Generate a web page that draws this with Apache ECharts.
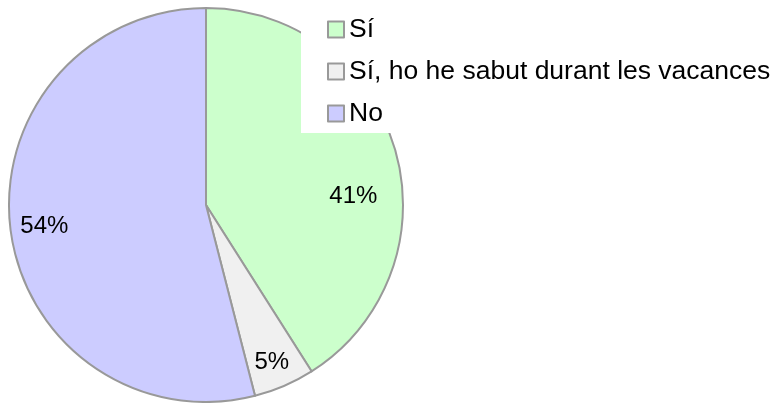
<!DOCTYPE html>
<html>
<head>
<meta charset="utf-8">
<script src="https://cdn.jsdelivr.net/npm/echarts@6/dist/echarts.min.js"></script>
<style>
  html, body { margin: 0; padding: 0; background: #fff; }
  #chart { width: 774px; height: 403px; }
</style>
</head>
<body>
<div id="chart"></div>
<script>
// respostes
var names = ['Sí', 'Sí, ho he sabut durant les vacances', 'No'];
var values = [41, 5, 54];
var colors = ['#ccffcc', '#f0f0f0', '#ccccff'];

var pieData = names.map(function (n, i) {
  return { name: n, value: values[i], itemStyle: { color: colors[i] } };
});

var myChart = echarts.init(document.getElementById('chart'));

var option = {
  animation: false,
  legend: {
    data: names,
    orient: 'vertical',
    left: 301,
    top: 0,
    padding: [16, 8, 6, 26],
    backgroundColor: '#fff',
    itemWidth: 16,
    itemHeight: 16,
    itemGap: 15,
    icon: 'rect',
    itemStyle: { borderColor: '#999', borderWidth: 2 },
    textStyle: { fontFamily: 'Liberation Sans', fontSize: 26.5, lineHeight: 26, color: '#000' }
  },
  series: [
    {
      // tarta visible
      type: 'pie',
      center: [206, 205],
      radius: [0, 197],
      startAngle: 90,
      silent: true,
      itemStyle: { borderColor: '#999', borderWidth: 2 },
      label: { show: false },
      labelLine: { show: false },
      data: pieData
    },
    {
      // només per posar les etiquetes
      type: 'pie',
      center: [206, 205],
      radius: [0, 330],
      startAngle: 90,
      silent: true,
      itemStyle: { color: 'transparent', borderWidth: 0 },
      label: {
        show: true,
        position: 'inside',
        formatter: '{d}%',
        fontFamily: 'Liberation Sans',
        fontSize: 24,
        color: '#000'
      },
      labelLine: { show: false },
      // petits ajustos perquè quedin com a l'original
      labelLayout: function (p) {
        if (p.dataIndex === 0) return { dx: -14, dy: 38 };
        if (p.dataIndex === 1) return { dx: -1, dy: 3 };
        return { dx: 5 };
      },
      data: names.map(function (n, i) { return { name: n, value: values[i] }; })
    }
  ]
};
myChart.setOption(option);
</script>
</body>
</html>
